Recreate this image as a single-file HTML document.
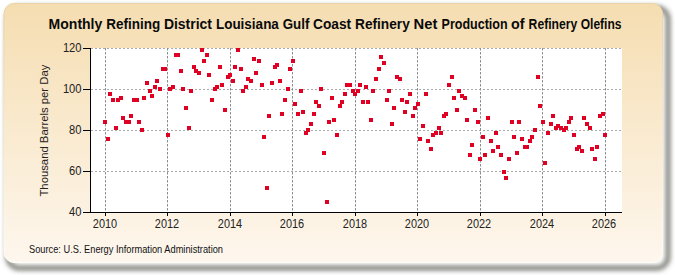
<!DOCTYPE html>
<html><head><meta charset="utf-8">
<style>
html,body{margin:0;padding:0;background:#fff;width:675px;height:275px;overflow:hidden}
svg{display:block}
text{font-family:"Liberation Sans",sans-serif}
svg{fill:#222}
</style></head><body>
<svg width="675" height="275" viewBox="0 0 675 275">
<defs>
<linearGradient id="bg" x1="0" y1="0" x2="0" y2="1">
<stop offset="0" stop-color="#F5DDB1"/>
<stop offset="1" stop-color="#FEF7EE"/>
</linearGradient>
<filter id="sh" x="-5%" y="-5%" width="110%" height="115%">
<feGaussianBlur stdDeviation="2.6"/>
</filter>
<linearGradient id="rim" x1="0" y1="0" x2="0" y2="1"><stop offset="0" stop-color="#e8d4a8"/><stop offset="0.5" stop-color="#f7ead2"/><stop offset="1" stop-color="#fffcf6"/></linearGradient>
<filter id="soft" x="-2%" y="-2%" width="104%" height="104%"><feGaussianBlur stdDeviation="0.7"/></filter>
</defs>
<rect x="8" y="8" width="660" height="260" rx="11" fill="none" stroke="#6e6e68" stroke-width="4.4" filter="url(#sh)"/>
<rect x="4" y="3.5" width="658.5" height="259" rx="10" fill="url(#bg)" stroke="url(#rim)" stroke-width="1" filter="url(#soft)"/>
<g style="font-weight:bold;font-size:14px" fill="#0a0a0a">
<text x="48.6" y="29" textLength="53.7" lengthAdjust="spacingAndGlyphs">Monthly</text>
<text x="106.2" y="29" textLength="54.0" lengthAdjust="spacingAndGlyphs">Refining</text>
<text x="163.9" y="29" textLength="48.1" lengthAdjust="spacingAndGlyphs">District</text>
<text x="215.9" y="29" textLength="63.0" lengthAdjust="spacingAndGlyphs">Louisiana</text>
<text x="282.7" y="29" textLength="26.7" lengthAdjust="spacingAndGlyphs">Gulf</text>
<text x="313.1" y="29" textLength="38.1" lengthAdjust="spacingAndGlyphs">Coast</text>
<text x="355.0" y="29" textLength="54.8" lengthAdjust="spacingAndGlyphs">Refinery</text>
<text x="413.5" y="29" textLength="23.8" lengthAdjust="spacingAndGlyphs">Net</text>
<text x="441.6" y="29" textLength="66.0" lengthAdjust="spacingAndGlyphs">Production</text>
<text x="511.0" y="29" textLength="13.5" lengthAdjust="spacingAndGlyphs">of</text>
<text x="528.6" y="29" textLength="48.7" lengthAdjust="spacingAndGlyphs">Refinery</text>
<text x="580.7" y="29" textLength="40.8" lengthAdjust="spacingAndGlyphs">Olefins</text>
</g>
<rect x="91" y="48" width="531" height="164" fill="#fff"/>
<g stroke-width="1" fill="none">
<path stroke="#ababab" stroke-dasharray="2,2" d="M91 48.5H622M91 89.5H622M91 130.5H622M91 171.5H622"/>
<path stroke="#8e8e8e" stroke-dasharray="2.5,1.5" d="M105.5 48V212M167.5 48V212M230.5 48V212M292.5 48V212M355.5 48V212M417.5 48V212M480.5 48V212M542.5 48V212M605.5 48V212"/>
</g>
<g stroke="#000" stroke-width="1" fill="none">
<path d="M90.5 48V213M90 212.5H622"/>
<path d="M83 48.5H90M83 89.5H90M83 130.5H90M83 171.5H90M83 212.5H90"/>
<path d="M105.5 212V216M167.5 212V216M230.5 212V216M292.5 212V216M355.5 212V216M417.5 212V216M480.5 212V216M542.5 212V216M605.5 212V216"/>
</g>
<g style="font-size:12px" text-anchor="end">
<text transform="translate(81.5,52) scale(0.93,1)">120</text>
<text transform="translate(81.5,93) scale(0.93,1)">100</text>
<text transform="translate(81.5,134) scale(0.93,1)">80</text>
<text transform="translate(81.5,175) scale(0.93,1)">60</text>
<text transform="translate(81.5,216) scale(0.93,1)">40</text>
</g>
<g style="font-size:12px" text-anchor="middle">
<text transform="translate(105.0,228) scale(0.91,1)">2010</text>
<text transform="translate(167.0,228) scale(0.91,1)">2012</text>
<text transform="translate(230.0,228) scale(0.91,1)">2014</text>
<text transform="translate(292.0,228) scale(0.91,1)">2016</text>
<text transform="translate(355.0,228) scale(0.91,1)">2018</text>
<text transform="translate(417.0,228) scale(0.91,1)">2020</text>
<text transform="translate(479.0,228) scale(0.91,1)">2022</text>
<text transform="translate(542.0,228) scale(0.91,1)">2024</text>
<text transform="translate(604.0,228) scale(0.91,1)">2026</text>
</g>
<text transform="translate(47.5,130.6) rotate(-90)" text-anchor="middle" style="font-size:11.3px">Thousand Barrels per Day</text>
<text x="29" y="252.7" textLength="194" lengthAdjust="spacingAndGlyphs" style="font-size:10.4px;fill:#111">Source: U.S. Energy Information Administration</text>
<g id="pts" fill="#E00024">
<rect x="103" y="120" width="4" height="4"/>
<rect x="106" y="137" width="4" height="4"/>
<rect x="108" y="92" width="4" height="4"/>
<rect x="111" y="98" width="4" height="4"/>
<rect x="114" y="126" width="4" height="4"/>
<rect x="116" y="98" width="4" height="4"/>
<rect x="119" y="96" width="4" height="4"/>
<rect x="121" y="116" width="4" height="4"/>
<rect x="124" y="120" width="4" height="4"/>
<rect x="127" y="120" width="4" height="4"/>
<rect x="129" y="114" width="4" height="4"/>
<rect x="132" y="98" width="4" height="4"/>
<rect x="135" y="98" width="4" height="4"/>
<rect x="137" y="120" width="4" height="4"/>
<rect x="140" y="128" width="4" height="4"/>
<rect x="142" y="96" width="4" height="4"/>
<rect x="145" y="81" width="4" height="4"/>
<rect x="148" y="89" width="4" height="4"/>
<rect x="150" y="94" width="4" height="4"/>
<rect x="153" y="85" width="4" height="4"/>
<rect x="155" y="79" width="4" height="4"/>
<rect x="158" y="87" width="4" height="4"/>
<rect x="161" y="67" width="4" height="4"/>
<rect x="163" y="67" width="4" height="4"/>
<rect x="166" y="133" width="4" height="4"/>
<rect x="168" y="87" width="4" height="4"/>
<rect x="171" y="85" width="4" height="4"/>
<rect x="174" y="53" width="4" height="4"/>
<rect x="176" y="53" width="4" height="4"/>
<rect x="179" y="69" width="4" height="4"/>
<rect x="181" y="87" width="4" height="4"/>
<rect x="184" y="106" width="4" height="4"/>
<rect x="187" y="126" width="4" height="4"/>
<rect x="189" y="89" width="4" height="4"/>
<rect x="192" y="65" width="4" height="4"/>
<rect x="194" y="69" width="4" height="4"/>
<rect x="197" y="71" width="4" height="4"/>
<rect x="200" y="48" width="4" height="4"/>
<rect x="202" y="59" width="4" height="4"/>
<rect x="205" y="53" width="4" height="4"/>
<rect x="207" y="73" width="4" height="4"/>
<rect x="210" y="98" width="4" height="4"/>
<rect x="213" y="87" width="4" height="4"/>
<rect x="215" y="85" width="4" height="4"/>
<rect x="218" y="65" width="4" height="4"/>
<rect x="220" y="83" width="4" height="4"/>
<rect x="223" y="108" width="4" height="4"/>
<rect x="226" y="75" width="4" height="4"/>
<rect x="228" y="73" width="4" height="4"/>
<rect x="231" y="79" width="4" height="4"/>
<rect x="233" y="65" width="4" height="4"/>
<rect x="236" y="48" width="4" height="4"/>
<rect x="239" y="67" width="4" height="4"/>
<rect x="241" y="89" width="4" height="4"/>
<rect x="244" y="85" width="4" height="4"/>
<rect x="246" y="77" width="4" height="4"/>
<rect x="249" y="79" width="4" height="4"/>
<rect x="252" y="57" width="4" height="4"/>
<rect x="254" y="71" width="4" height="4"/>
<rect x="257" y="59" width="4" height="4"/>
<rect x="260" y="83" width="4" height="4"/>
<rect x="262" y="135" width="4" height="4"/>
<rect x="265" y="186" width="4" height="4"/>
<rect x="267" y="114" width="4" height="4"/>
<rect x="270" y="81" width="4" height="4"/>
<rect x="273" y="65" width="4" height="4"/>
<rect x="275" y="63" width="4" height="4"/>
<rect x="278" y="79" width="4" height="4"/>
<rect x="280" y="112" width="4" height="4"/>
<rect x="283" y="98" width="4" height="4"/>
<rect x="286" y="87" width="4" height="4"/>
<rect x="288" y="67" width="4" height="4"/>
<rect x="291" y="59" width="4" height="4"/>
<rect x="293" y="102" width="4" height="4"/>
<rect x="296" y="112" width="4" height="4"/>
<rect x="299" y="89" width="4" height="4"/>
<rect x="301" y="110" width="4" height="4"/>
<rect x="304" y="131" width="4" height="4"/>
<rect x="306" y="128" width="4" height="4"/>
<rect x="309" y="122" width="4" height="4"/>
<rect x="312" y="112" width="4" height="4"/>
<rect x="314" y="100" width="4" height="4"/>
<rect x="317" y="104" width="4" height="4"/>
<rect x="319" y="87" width="4" height="4"/>
<rect x="322" y="151" width="4" height="4"/>
<rect x="325" y="200" width="4" height="4"/>
<rect x="327" y="120" width="4" height="4"/>
<rect x="330" y="96" width="4" height="4"/>
<rect x="332" y="118" width="4" height="4"/>
<rect x="335" y="133" width="4" height="4"/>
<rect x="338" y="104" width="4" height="4"/>
<rect x="340" y="100" width="4" height="4"/>
<rect x="343" y="92" width="4" height="4"/>
<rect x="345" y="83" width="4" height="4"/>
<rect x="348" y="83" width="4" height="4"/>
<rect x="351" y="89" width="4" height="4"/>
<rect x="353" y="92" width="4" height="4"/>
<rect x="356" y="89" width="4" height="4"/>
<rect x="358" y="83" width="4" height="4"/>
<rect x="361" y="100" width="4" height="4"/>
<rect x="364" y="85" width="4" height="4"/>
<rect x="366" y="100" width="4" height="4"/>
<rect x="369" y="118" width="4" height="4"/>
<rect x="371" y="89" width="4" height="4"/>
<rect x="374" y="77" width="4" height="4"/>
<rect x="377" y="67" width="4" height="4"/>
<rect x="379" y="55" width="4" height="4"/>
<rect x="382" y="61" width="4" height="4"/>
<rect x="385" y="98" width="4" height="4"/>
<rect x="387" y="89" width="4" height="4"/>
<rect x="390" y="122" width="4" height="4"/>
<rect x="392" y="106" width="4" height="4"/>
<rect x="395" y="75" width="4" height="4"/>
<rect x="398" y="77" width="4" height="4"/>
<rect x="400" y="98" width="4" height="4"/>
<rect x="403" y="110" width="4" height="4"/>
<rect x="405" y="100" width="4" height="4"/>
<rect x="408" y="92" width="4" height="4"/>
<rect x="411" y="114" width="4" height="4"/>
<rect x="413" y="106" width="4" height="4"/>
<rect x="416" y="102" width="4" height="4"/>
<rect x="418" y="137" width="4" height="4"/>
<rect x="421" y="124" width="4" height="4"/>
<rect x="424" y="92" width="4" height="4"/>
<rect x="426" y="139" width="4" height="4"/>
<rect x="429" y="147" width="4" height="4"/>
<rect x="431" y="133" width="4" height="4"/>
<rect x="434" y="131" width="4" height="4"/>
<rect x="437" y="126" width="4" height="4"/>
<rect x="439" y="131" width="4" height="4"/>
<rect x="442" y="114" width="4" height="4"/>
<rect x="444" y="112" width="4" height="4"/>
<rect x="447" y="83" width="4" height="4"/>
<rect x="450" y="75" width="4" height="4"/>
<rect x="452" y="96" width="4" height="4"/>
<rect x="455" y="108" width="4" height="4"/>
<rect x="457" y="89" width="4" height="4"/>
<rect x="460" y="94" width="4" height="4"/>
<rect x="463" y="96" width="4" height="4"/>
<rect x="465" y="118" width="4" height="4"/>
<rect x="468" y="153" width="4" height="4"/>
<rect x="470" y="143" width="4" height="4"/>
<rect x="473" y="108" width="4" height="4"/>
<rect x="476" y="120" width="4" height="4"/>
<rect x="478" y="157" width="4" height="4"/>
<rect x="481" y="135" width="4" height="4"/>
<rect x="483" y="153" width="4" height="4"/>
<rect x="486" y="116" width="4" height="4"/>
<rect x="489" y="139" width="4" height="4"/>
<rect x="491" y="149" width="4" height="4"/>
<rect x="494" y="131" width="4" height="4"/>
<rect x="496" y="145" width="4" height="4"/>
<rect x="499" y="153" width="4" height="4"/>
<rect x="502" y="170" width="4" height="4"/>
<rect x="504" y="176" width="4" height="4"/>
<rect x="507" y="157" width="4" height="4"/>
<rect x="510" y="120" width="4" height="4"/>
<rect x="512" y="135" width="4" height="4"/>
<rect x="515" y="151" width="4" height="4"/>
<rect x="517" y="120" width="4" height="4"/>
<rect x="520" y="137" width="4" height="4"/>
<rect x="523" y="145" width="4" height="4"/>
<rect x="525" y="145" width="4" height="4"/>
<rect x="528" y="139" width="4" height="4"/>
<rect x="530" y="135" width="4" height="4"/>
<rect x="533" y="128" width="4" height="4"/>
<rect x="536" y="75" width="4" height="4"/>
<rect x="538" y="104" width="4" height="4"/>
<rect x="541" y="120" width="4" height="4"/>
<rect x="543" y="161" width="4" height="4"/>
<rect x="546" y="131" width="4" height="4"/>
<rect x="549" y="122" width="4" height="4"/>
<rect x="551" y="114" width="4" height="4"/>
<rect x="554" y="126" width="4" height="4"/>
<rect x="556" y="124" width="4" height="4"/>
<rect x="559" y="126" width="4" height="4"/>
<rect x="562" y="128" width="4" height="4"/>
<rect x="564" y="126" width="4" height="4"/>
<rect x="567" y="120" width="4" height="4"/>
<rect x="569" y="116" width="4" height="4"/>
<rect x="572" y="133" width="4" height="4"/>
<rect x="575" y="147" width="4" height="4"/>
<rect x="577" y="145" width="4" height="4"/>
<rect x="580" y="149" width="4" height="4"/>
<rect x="582" y="116" width="4" height="4"/>
<rect x="585" y="122" width="4" height="4"/>
<rect x="588" y="126" width="4" height="4"/>
<rect x="590" y="147" width="4" height="4"/>
<rect x="593" y="157" width="4" height="4"/>
<rect x="595" y="145" width="4" height="4"/>
<rect x="598" y="114" width="4" height="4"/>
<rect x="601" y="112" width="4" height="4"/>
<rect x="603" y="133" width="4" height="4"/>
</g>
</svg>
</body></html>
